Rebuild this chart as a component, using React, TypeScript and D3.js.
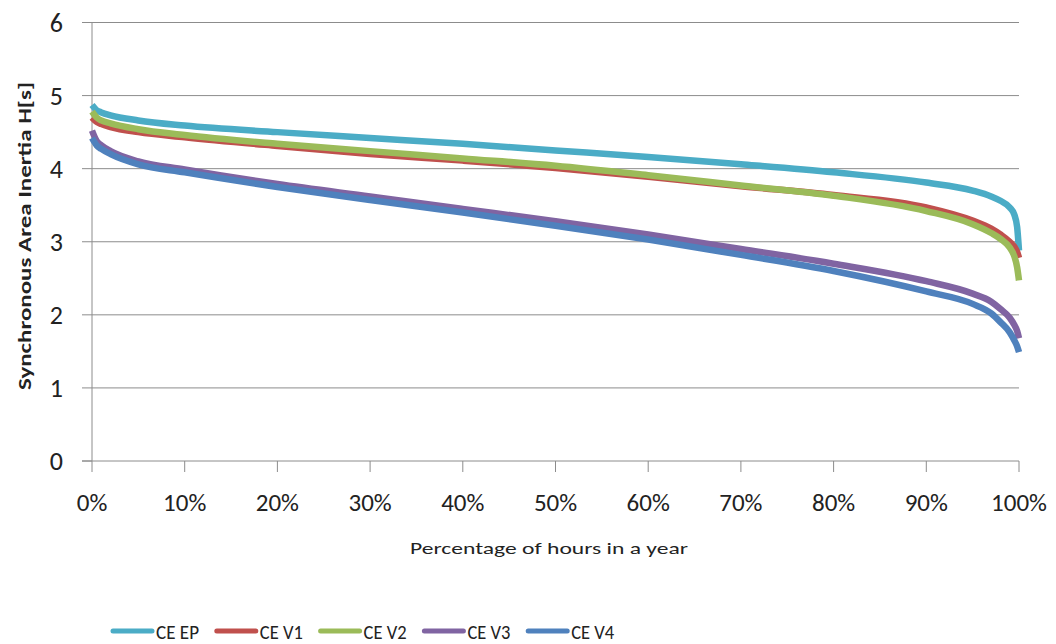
import React from "react";
import * as d3 from "d3";

const xPercents = [0, 0.5, 1, 2, 5, 10, 20, 30, 40, 50, 60, 70, 80, 90, 95, 97, 98, 99, 99.5, 99.8, 100];
const ceEP = [4.87, 4.8, 4.77, 4.73, 4.66, 4.59, 4.5, 4.42, 4.34, 4.25, 4.16, 4.06, 3.95, 3.81, 3.7, 3.62, 3.56, 3.47, 3.37, 3.2, 2.88];
const ceV1 = [4.7, 4.64, 4.61, 4.57, 4.5, 4.43, 4.31, 4.2, 4.11, 4.01, 3.89, 3.76, 3.64, 3.47, 3.29, 3.18, 3.1, 3.0, 2.93, 2.86, 2.78];
const ceV2 = [4.78, 4.7, 4.66, 4.62, 4.54, 4.46, 4.34, 4.24, 4.14, 4.04, 3.91, 3.77, 3.63, 3.42, 3.24, 3.12, 3.04, 2.92, 2.8, 2.65, 2.47];
const ceV3 = [4.52, 4.38, 4.32, 4.24, 4.1, 3.99, 3.79, 3.62, 3.45, 3.28, 3.1, 2.9, 2.7, 2.46, 2.29, 2.18, 2.08, 1.96, 1.86, 1.78, 1.68];
const ceV4 = [4.42, 4.32, 4.27, 4.2, 4.06, 3.95, 3.75, 3.57, 3.4, 3.22, 3.03, 2.82, 2.6, 2.32, 2.15, 2.02, 1.9, 1.76, 1.65, 1.57, 1.49];

const seriesNames = ["CE EP", "CE V1", "CE V2", "CE V3", "CE V4"];
const seriesValues = [ceEP, ceV1, ceV2, ceV3, ceV4];
const seriesColors = ["#4BACC6", "#C0504D", "#9BBB59", "#8064A2", "#4F81BD"];

const yTicks = [0, 1, 2, 3, 4, 5, 6];
const xTicks = [0, 10, 20, 30, 40, 50, 60, 70, 80, 90, 100];

const yTitle = "Synchronous Area Inertia H[s]";
const xTitle = "Percentage of hours in a year";

const FONT = "Carlito, Lato, 'Open Sans', sans-serif";

export default function App() {
  const W = 1056, H = 644;
  const x = d3.scaleLinear().domain([0, 100]).range([92, 1019]);
  const y = d3.scaleLinear().domain([0, 6]).range([461, 22.5]);
  const line = d3
    .line<number>()
    .x((_, i) => x(xPercents[i]))
    .y((d) => y(d))
    .curve(d3.curveMonotoneX);

  const legendX0 = 113;
  const legendStep = 103.8;

  return (
    <svg
      width={W}
      height={H}
      style={{ position: "absolute", left: 0, top: 0, background: "#fff" }}
      fontFamily={FONT}
    >
      {/* gridlines */}
      {yTicks.slice(1).map((t) => (
        <line key={"g" + t} x1={x(0)} x2={x(100)} y1={y(t)} y2={y(t)} stroke="#8c8c8c" strokeWidth={1} />
      ))}
      {/* y axis */}
      <line x1={x(0)} x2={x(0)} y1={y(6)} y2={y(0)} stroke="#8c8c8c" strokeWidth={1} />
      {yTicks.map((t) => (
        <g key={"yt" + t}>
          <line x1={x(0) - 10} x2={x(0)} y1={y(t)} y2={y(t)} stroke="#8c8c8c" strokeWidth={1} />
          <text x={63} y={y(t)} dy="0.35em" textAnchor="end" fontSize={26} fill="#222">
            {t}
          </text>
        </g>
      ))}
      {/* x axis */}
      <line x1={x(0) - 10} x2={x(100)} y1={y(0)} y2={y(0)} stroke="#8c8c8c" strokeWidth={1} />
      {xTicks.map((t) => (
        <g key={"xt" + t}>
          <line x1={x(t)} x2={x(t)} y1={y(0)} y2={y(0) + 11} stroke="#8c8c8c" strokeWidth={1} />
          <text x={x(t)} y={511} textAnchor="middle" fontSize={25} fill="#222">
            {t + "%"}
          </text>
        </g>
      ))}
      {/* series */}
      {seriesValues.map((vals, i) => (
        <path
          key={seriesNames[i]}
          d={line(vals) || ""}
          fill="none"
          stroke={seriesColors[i]}
          strokeWidth={6.5}
          strokeLinejoin="round"
        />
      ))}
      {/* titles */}
      <text x={549} y={554} textAnchor="middle" fontSize={17} fill="#222" textLength={278} lengthAdjust="spacingAndGlyphs">
        {xTitle}
      </text>
      <text
        transform={`translate(31,236) rotate(-90)`}
        textAnchor="middle"
        fontSize={18}
        fontWeight="bold"
        fill="#222"
        textLength={308}
        lengthAdjust="spacingAndGlyphs"
      >
        {yTitle}
      </text>
      {/* legend */}
      {seriesNames.map((n, i) => {
        const lx = legendX0 + i * legendStep;
        return (
          <g key={"lg" + n}>
            <line x1={lx} x2={lx + 39} y1={631} y2={631} stroke={seriesColors[i]} strokeWidth={5} strokeLinecap="round" />
            <text
              x={lx + 43}
              y={639}
              fontSize={21}
              fill="#222"
              textLength={43}
              lengthAdjust="spacingAndGlyphs"
            >
              {n}
            </text>
          </g>
        );
      })}
    </svg>
  );
}
